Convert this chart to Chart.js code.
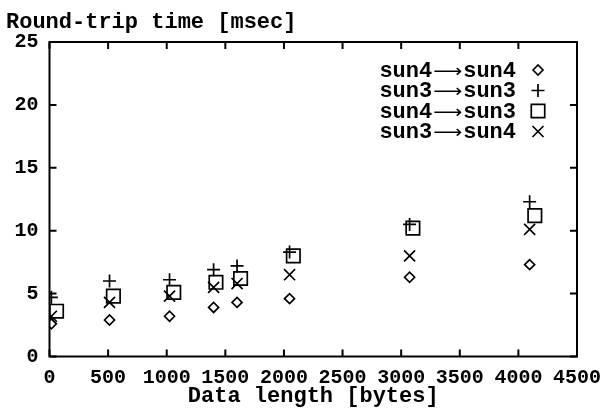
<!DOCTYPE html>
<html>
<head>
<meta charset="utf-8">
<script src="https://cdn.jsdelivr.net/npm/chart.js@4"></script>
<style>
  html, body { margin: 0; padding: 0; background: #fff; }
  #wrap { width: 605px; height: 410px; }
</style>
</head>
<body>
<div id="wrap"><canvas id="rttChart"></canvas></div>
<script>
// message sizes (bytes) and round-trip times (msec)
var sizes = [16, 512, 1024, 1400, 1600, 2048, 3072, 4096];
var sizesSun4Sun3 = [60, 545, 1060, 1420, 1630, 2080, 3100, 4140];

var sun4sun4 = [2.6, 2.9, 3.2, 3.9, 4.3, 4.6, 6.3, 7.3];
var sun3sun3 = [4.7, 6.0, 6.1, 6.9, 7.2, 8.3, 10.5, 12.3];
var sun4sun3 = [3.6, 4.8, 5.1, 5.9, 6.2, 8.0, 10.2, 11.2];
var sun3sun4 = [3.2, 4.3, 4.8, 5.5, 5.8, 6.5, 8.0, 10.1];

var xTicks = [0, 500, 1000, 1500, 2000, 2500, 3000, 3500, 4000, 4500];
var yTicks = [0, 5, 10, 15, 20, 25];

var xTitle = "Data length [bytes]";
var yTitle = "Round-trip time [msec]";

function pts(xs, ys) {
    return xs.map(function (v, i) { return { x: v, y: ys[i] }; });
}

var monoFont = '"Liberation Mono", "DejaVu Sans Mono", monospace';

// frame, inward ticks, axis titles and legend
var decor = {
    id: "decor",
    afterDraw: function (chart) {
        var ctx = chart.ctx, a = chart.chartArea;
        var x = chart.scales.x, y = chart.scales.y;
        ctx.save();
        ctx.strokeStyle = "#000";
        ctx.lineWidth = 2;
        ctx.strokeRect(a.left, a.top, a.right - a.left, a.bottom - a.top);
        var t = 7;
        ctx.beginPath();
        xTicks.forEach(function (v) {
            var px = x.getPixelForValue(v);
            ctx.moveTo(px, a.bottom); ctx.lineTo(px, a.bottom - t);
            ctx.moveTo(px, a.top); ctx.lineTo(px, a.top + t);
        });
        yTicks.forEach(function (v) {
            var py = y.getPixelForValue(v);
            ctx.moveTo(a.left, py); ctx.lineTo(a.left + t, py);
            ctx.moveTo(a.right, py); ctx.lineTo(a.right - t, py);
        });
        ctx.stroke();

        ctx.fillStyle = "#000";
        ctx.font = "bold 22px " + monoFont;
        ctx.textBaseline = "alphabetic";
        ctx.textAlign = "left";
        ctx.fillText(yTitle, 6, 28);
        ctx.textAlign = "center";
        ctx.fillText(xTitle, (a.left + a.right) / 2, 402);

        // legend
        chart.data.datasets.forEach(function (ds, i) {
            var ry = 71 + i * 20.5;
            var parts = ds.label.split("\u2192");
            ctx.fillStyle = "#000";
            ctx.font = "bold 22px " + monoFont;
            ctx.textBaseline = "middle";
            ctx.textAlign = "right";
            ctx.fillText(parts[1], 516, ry);
            var toW = ctx.measureText(parts[1]).width;
            var arrowR = 516 - toW - 1, arrowW = 29;
            ctx.fillText(parts[0], arrowR - arrowW - 1, ry);
            ctx.save();
            ctx.font = "18px \"DejaVu Sans\"";
            var aw = ctx.measureText("\u27F6").width;
            ctx.translate(arrowR - arrowW, ry);
            ctx.scale(arrowW / aw, 1);
            ctx.textAlign = "left";
            ctx.fillText("\u27F6", 0, 1);
            ctx.restore();
            ctx.fillStyle = "rgba(0,0,0,0)";
            ctx.strokeStyle = "#000";
            ctx.lineWidth = ds.pointBorderWidth;
            Chart.helpers.drawPoint(ctx, {
                pointStyle: ds.pointStyle,
                radius: ds.pointRadius,
                rotation: 0,
                borderWidth: ds.pointBorderWidth
            }, 538, ry - 1);
        });
        ctx.restore();
    }
};

function series(label, data, style, r) {
    return {
        label: label,
        data: data,
        showLine: false,
        pointStyle: style,
        pointRadius: r,
        pointHoverRadius: r,
        pointBorderWidth: 1.7,
        borderColor: "#000",
        backgroundColor: "rgba(0,0,0,0)"
    };
}

var ctx = document.getElementById("rttChart");

var myChart = new Chart(ctx, {
    type: "scatter",
    data: {
        datasets: [
            series("sun4\u2192sun4", pts(sizes, sun4sun4), "rectRot", 5),
            series("sun3\u2192sun3", pts(sizes, sun3sun3), "cross", 6.5),
            series("sun4\u2192sun3", pts(sizesSun4Sun3, sun4sun3), "rect", 9.5),
            series("sun3\u2192sun4", pts(sizes, sun3sun4), "crossRot", 7.8)
        ]
    },
    options: {
        responsive: true,
        maintainAspectRatio: false,
        animation: false,
        layout: { padding: { top: 42, right: 28, left: 0, bottom: 0 } },
        plugins: { legend: { display: false }, tooltip: { enabled: false } },
        scales: {
            x: {
                type: "linear",
                min: 0,
                max: 4500,
                afterBuildTicks: function (s) { s.ticks = xTicks.map(function (v) { return { value: v }; }); },
                afterFit: function (s) {
                    s.height = 53.5;
                    s.paddingLeft = 0;
                    s.paddingRight = 0;
                },
                grid: { display: false, drawTicks: false },
                border: { display: false },
                ticks: {
                    autoSkip: false,
                    maxRotation: 0,
                    padding: 9,
                    color: "#000",
                    font: { family: monoFont, size: 20, weight: "bold" },
                    callback: function (v) { return String(v); }
                }
            },
            y: {
                type: "linear",
                min: 0,
                max: 25,
                afterBuildTicks: function (s) { s.ticks = yTicks.map(function (v) { return { value: v }; }); },
                afterFit: function (s) {
                    s.width = 49.5;
                    s.paddingTop = 0;
                    s.paddingBottom = 0;
                },
                grid: { display: false, drawTicks: false },
                border: { display: false },
                ticks: {
                    padding: 11,
                    color: "#000",
                    font: { family: monoFont, size: 20, weight: "bold" },
                    callback: function (v) { return String(v); }
                }
            }
        }
    },
    plugins: [decor]
});
</script>
</body>
</html>
